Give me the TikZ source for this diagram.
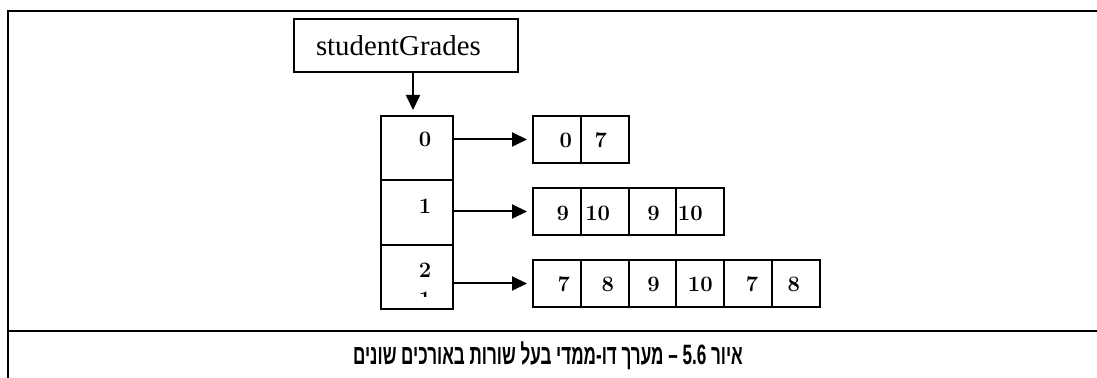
\documentclass[tikz,border=0pt]{standalone}
\usepackage{fontspec}
\newfontfamily\namefont{Liberation Serif}
\newfontfamily\hebfont[Script=Hebrew]{Liberation Sans}
\usetikzlibrary{arrows.meta}
\TeXXeTstate=1

\begin{document}
\begin{tikzpicture}[
  x=0.5pt, y=-0.5pt, line width=1pt,
  >={Triangle[length=7.5pt,width=7pt]},
  cell/.style={draw, minimum width=23.9pt, minimum height=23.5pt, inner sep=0pt, anchor=north west},
  idx/.style={draw, minimum width=36pt, minimum height=32.2pt, inner sep=0pt, anchor=north west},
  num/.style={inner sep=0pt, font=\fontsize{11}{13}\selectfont\bfseries}]
  \useasboundingbox (0,0) rectangle (1097,378);
  % table frame
  \draw (8,378) -- (8,11) -- (1097,11);
  \draw (8,331) -- (1097,331);
  % variable
  \node[draw, anchor=north west, minimum height=26.5pt, text width=90pt, inner xsep=11pt,
    align=left, font=\namefont\fontsize{14.4}{16}\selectfont] (sg) at (293,18) {studentGrades};
  % array of row references
  \node[idx] (i0) at (380,115) {};
  \node[idx] (i1) at (380,179.3) {};
  \node[idx] (i2) at (380,243.6) {};
  \node[num] (i0t) at (425,139) {0};
  \node[num] (i1t) at (425,206) {1};
  \node[num] (i2t) at (425,270) {2};
  \begin{scope}
    \clip (380,243) rectangle (452,297);
    \node[num] (i2u) at (425,299.5) {1};
  \end{scope}
  \draw[->, shorten >=2.5pt] (sg.south -| 413,0) -- (i0.north -| 413,0);
  % the rows
  \foreach \v/\dx [count=\i from 0] in {0/9, 7/-4} {
    \node[cell] (r0-\i) at ({532+47.8*\i},115) {};
    \node[num] (t0-\i) at ([xshift=\dx*0.5pt, yshift=-0.5pt]r0-\i.center) {\v};
  }
  \foreach \v/\dx [count=\i from 0] in {9/6, 10/-7, 9/1, 10/-10} {
    \node[cell] (r1-\i) at ({532+47.8*\i},187) {};
    \node[num] (t1-\i) at ([xshift=\dx*0.5pt, yshift=-1pt]r1-\i.center) {\v};
  }
  \foreach \v/\dx [count=\i from 0] in {7/7, 8/3, 9/1, 10/0, 7/4, 8/-2} {
    \node[cell] (r2-\i) at ({532+47.8*\i},259) {};
    \node[num] (t2-\i) at ([xshift=\dx*0.5pt, yshift=-0.5pt]r2-\i.center) {\v};
  }
  \draw[->, shorten >=2.5pt] (i0.east |- r0-0.west) -- (r0-0.west);
  \draw[->, shorten >=2.5pt] (i1.east |- r1-0.west) -- (r1-0.west);
  \draw[->, shorten >=2.5pt] (i2.east |- r2-0.west) -- (r2-0.west);
  % caption
  \node[font=\hebfont\bfseries\fontsize{14}{16}\selectfont] (cap) at (548,356)
    {\scalebox{0.61}[1]{\beginR איור \beginL 5.6\endL{} – מערך דו-ממדי בעל שורות באורכים שונים\endR}};
\end{tikzpicture}
\end{document}
